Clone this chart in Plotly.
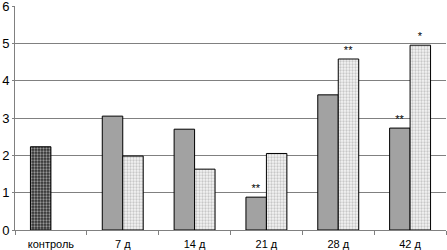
import plotly.graph_objects as go

categories = ["контроль", "7 д", "14 д", "21 д", "28 д", "42 д"]
series_a = [2.23, 3.05, 2.70, 0.88, 3.62, 2.73]
series_b = [None, 1.98, 1.63, 2.05, 4.58, 4.95]
marks_a = ["", "", "", "**", "", "**"]
marks_b = ["", "", "", "", "**", "*"]
y_ticks = [0, 1, 2, 3, 4, 5, 6]

fig = go.Figure()
fig.add_trace(go.Bar(
    x=categories, y=series_a,
    text=marks_a, textposition="outside", cliponaxis=False,
    textfont=dict(size=11, color="black", family="Liberation Sans"),
    marker=dict(
        color=["#303030"] + ["#a2a2a2"] * 5,
        line=dict(color="black", width=1),
        pattern=dict(shape=["."] + [""] * 5, fgcolor="#b8b8b8", bgcolor="#303030",
                     size=3, solidity=0.45),
    ),
))
fig.add_trace(go.Bar(
    x=categories, y=series_b,
    text=marks_b, textposition="outside", cliponaxis=False,
    textfont=dict(size=11, color="black", family="Liberation Sans"),
    marker=dict(
        color="white",
        line=dict(color="black", width=1),
        pattern=dict(shape=".", fgcolor="#9a9a9a", bgcolor="#f4f4f4", size=3, solidity=0.45),
    ),
))

fig.update_layout(
    width=447, height=250,
    margin=dict(l=15, r=1, t=6, b=20, autoexpand=False),
    barmode="group", bargap=0.43, bargroupgap=0,
    showlegend=False,
    plot_bgcolor="white", paper_bgcolor="white",
    font=dict(family="Liberation Sans", size=11, color="black"),
)
fig.update_xaxes(
    type="category", tickson="boundaries", ticks="outside", ticklen=4,
    tickcolor="#808080", showline=True, linecolor="#808080", linewidth=1,
    showgrid=False, tickfont=dict(size=11), automargin=False, ticklabelstandoff=4,
)
fig.update_yaxes(
    range=[0, 6], tickvals=y_ticks, showgrid=True, gridcolor="#808080", gridwidth=1,
    showline=True, linecolor="#808080", ticks="outside", ticklen=2, tickcolor="#808080",
    zeroline=False, tickfont=dict(size=13), automargin=False,
    ticklabeloverflow="allow", ticklabelstandoff=0,
)
fig.write_html(
    "out.html",
    config={"displayModeBar": False},
    post_script="document.body.style.margin='0';document.body.style.overflow='hidden';",
)
